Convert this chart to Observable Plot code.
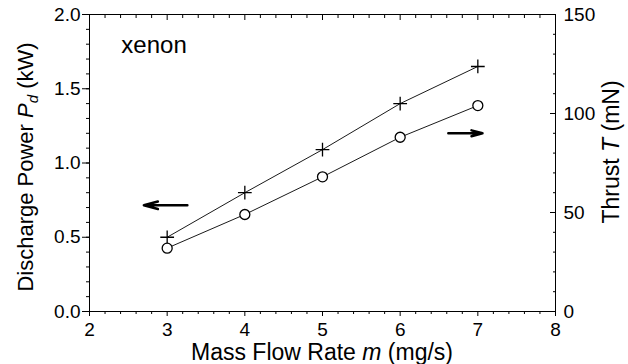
<!DOCTYPE html>
<html>
<head>
<meta charset="utf-8">
<script src="https://cdn.jsdelivr.net/npm/d3@7"></script>
<script src="https://cdn.jsdelivr.net/npm/@observablehq/plot@0.6"></script>
<style>
  html, body { margin: 0; padding: 0; background: #fff; }
  svg { display: block; }
</style>
</head>
<body>
<div id="chart"></div>
<script>
// ---- data ----
const massFlow = [3, 4, 5, 6, 7];                 // mg/s
const dischargePower = [0.50, 0.80, 1.09, 1.40, 1.65]; // kW  (+ markers, left axis)
const thrust = [32, 49, 68, 88, 104];             // mN  (o markers, right axis)

// tick labels
const xTicks = [2, 3, 4, 5, 6, 7, 8];
const powerTicks = [0.0, 0.5, 1.0, 1.5, 2.0];
const thrustTicks = [0, 50, 100, 150];

// annotation arrows
const arrowAxis = ["power", "thrust"];
const arrowFromX = [3.26, 6.62];
const arrowToX = [2.70, 7.06];
const arrowLevel = [0.715, 90];  // in kW for power arrow, in mN for thrust arrow

const label = "xenon";

// ---- scales mapping ----
const K = 150 / 2; // mN per kW on the shared vertical scale

const xMinor = d3.range(20, 81, 2).map(d => d / 10).filter(d => !xTicks.includes(d));
const yMinor = d3.range(0, 21, 1).map(d => d / 10);
const tMinor = d3.range(0, 151, 10);

const powerData = massFlow.map((m, i) => ({m, v: dischargePower[i]}));
const thrustData = massFlow.map((m, i) => ({m, v: thrust[i] / K}));
const arrows = arrowAxis.map((a, i) => ({
  x1: arrowFromX[i], x2: arrowToX[i],
  y: a === "power" ? arrowLevel[i] : arrowLevel[i] / K
}));

const chart = Plot.plot({
  width: 628,
  height: 364,
  marginLeft: 89,
  marginRight: 73,
  marginTop: 14,
  marginBottom: 53,
  style: {fontFamily: "'Liberation Sans', Arial, sans-serif", fontSize: "19px", color: "black", background: "white"},
  x: {domain: [2, 8]},
  y: {domain: [0, 2]},
  marks: [
    Plot.frame({stroke: "black", strokeWidth: 1}),
    // bottom axis
    Plot.axisX(xTicks, {anchor: "bottom", tickSize: 5, tickPadding: 5.5, fontSize: 19, label: null, tickFormat: d => String(d)}),
    Plot.axisX(xMinor, {anchor: "bottom", tickSize: 3, fill: "none", label: null}),
    // top axis (inward ticks)
    Plot.axisX(xTicks, {anchor: "top", tickSize: -5, fill: "none", label: null}),
    Plot.axisX(xMinor, {anchor: "top", tickSize: -3, fill: "none", label: null}),
    // left axis
    Plot.axisY(powerTicks, {anchor: "left", tickSize: 7, tickPadding: 2, fontSize: 19, label: null, tickFormat: d3.format(".1f")}),
    Plot.axisY(yMinor, {anchor: "left", tickSize: 3, fill: "none", label: null}),
    // right axis (inward ticks)
    Plot.axisY(thrustTicks.map(t => t / K), {anchor: "right", tickSize: -6, fill: "none", label: null}),
    Plot.axisY(tMinor.map(t => t / K), {anchor: "right", tickSize: -3, fill: "none", label: null}),
    Plot.axisY(thrustTicks.map(t => t / K), {anchor: "right", tickSize: 0, tickPadding: 8, fontSize: 19, label: null, tickFormat: d => String(Math.round(d * K))}),
    // series
    Plot.line(powerData, {x: "m", y: "v", stroke: "black", strokeWidth: 0.9}),
    Plot.line(thrustData, {x: "m", y: "v", stroke: "black", strokeWidth: 0.9}),
    Plot.dot(powerData, {x: "m", y: "v", symbol: "plus", r: 4.5, stroke: "black", strokeWidth: 1.3}),
    Plot.dot(thrustData, {x: "m", y: "v", symbol: "circle", r: 5, stroke: "black", fill: "white", strokeWidth: 1.3}),
    // arrows
    Plot.arrow(arrows, {x1: "x1", y1: "y", x2: "x2", y2: "y", stroke: "black", strokeWidth: 2.5, headLength: 12, headAngle: 30}),
    // label
    Plot.text([label], {x: 2.41, y: 1.79, text: d => d, textAnchor: "start", fontSize: 24, fill: "black"})
  ]
});

const svg = d3.select(chart);
const font = "'Liberation Sans', Arial, sans-serif";

// bottom axis title
const bt = svg.append("text")
  .attr("x", 322).attr("y", 360)
  .attr("text-anchor", "middle")
  .attr("font-family", font).attr("font-size", 23).attr("fill", "black");
bt.append("tspan").text("Mass Flow Rate ");
bt.append("tspan").attr("font-style", "italic").text("m");
bt.append("tspan").text(" (mg/s)");

// left axis title
const lt = svg.append("text")
  .attr("transform", "translate(33,167) rotate(-90)")
  .attr("text-anchor", "middle")
  .attr("font-family", font).attr("font-size", 22).attr("fill", "black");
lt.append("tspan").text("Discharge Power ");
lt.append("tspan").attr("font-style", "italic").text("P");
lt.append("tspan").attr("font-style", "italic").attr("font-size", 15).attr("dy", 5).text("d");
lt.append("tspan").attr("dy", -5).text(" (kW)");

// right axis title
const rt = svg.append("text")
  .attr("transform", "translate(619,152) rotate(-90)")
  .attr("text-anchor", "middle")
  .attr("font-family", font).attr("font-size", 23).attr("fill", "black");
rt.append("tspan").text("Thrust ");
rt.append("tspan").attr("font-style", "italic").text("T");
rt.append("tspan").text(" (mN)");

document.getElementById("chart").appendChild(chart);
</script>
</body>
</html>
